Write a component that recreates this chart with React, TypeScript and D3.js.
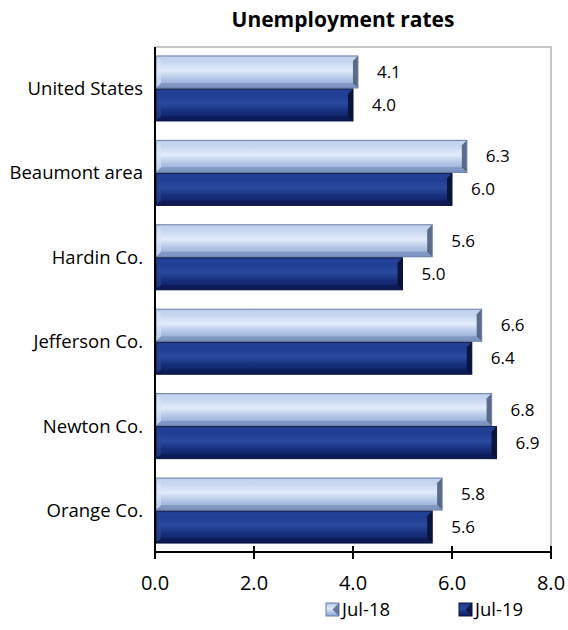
import React from "react";
import * as d3 from "d3";

const categories = ["United States", "Beaumont area", "Hardin Co.", "Jefferson Co.", "Newton Co.", "Orange Co."];
const seriesNames = ["Jul-18", "Jul-19"];
const jul18 = [4.1, 6.3, 5.6, 6.6, 6.8, 5.8];
const jul19 = [4.0, 6.0, 5.0, 6.4, 6.9, 5.6];
const xTicks = [0, 2, 4, 6, 8];

const W = 568;
const H = 630;
const M = { left: 155, right: 551, top: 47, bottom: 552 };
const FONT = "'Open Sans', sans-serif";

const seriesStyles = [
  { grad: "g18", bevelR: "#4f5f7c", bevelL: "#dbe6f6", bevelT: "#cddcf2", bevelB: "#7189b7", stroke: "#6a7fa6" },
  { grad: "g19", bevelR: "#071133", bevelL: "#2a4599", bevelT: "#26449a", bevelB: "#0a1750", stroke: "#0a143f" },
];

export default function App() {
  const x = d3.scaleLinear().domain([0, 8]).range([M.left, M.right]);
  const y = d3.scaleBand<string>().domain(categories).range([M.top, M.bottom]).paddingInner(0.218).paddingOuter(0.1);
  const inner = d3.scaleBand<string>().domain(seriesNames).range([0, y.bandwidth()]).padding(0);
  const series = [jul18, jul19];
  const bv = 5;

  const bar = (v: number, cat: string, si: number) => {
    const x0 = x(0) + 1;
    const x1 = x(v);
    const y0 = (y(cat) as number) + (inner(seriesNames[si]) as number) + 0.5;
    const h = inner.bandwidth() - 1;
    const y1 = y0 + h;
    const s = seriesStyles[si];
    return (
      <g key={cat + si}>
        <rect x={x0} y={y0} width={x1 - x0} height={h} fill={`url(#${s.grad})`} />
        <polygon points={`${x0},${y0} ${x1},${y0} ${x1 - bv},${y0 + bv} ${x0 + bv},${y0 + bv}`} fill={s.bevelT} opacity={0.55} />
        <polygon points={`${x0},${y1} ${x1},${y1} ${x1 - bv},${y1 - bv} ${x0 + bv},${y1 - bv}`} fill={s.bevelB} opacity={0.6} />
        <polygon points={`${x0},${y0} ${x0 + bv},${y0 + bv} ${x0 + bv},${y1 - bv} ${x0},${y1}`} fill={s.bevelL} opacity={0.6} />
        <polygon points={`${x1},${y0} ${x1 - bv},${y0 + bv} ${x1 - bv},${y1 - bv} ${x1},${y1}`} fill={s.bevelR} opacity={0.9} />
        <rect x={x0} y={y0} width={x1 - x0} height={h} fill="none" stroke={s.stroke} strokeWidth={1} />
        <text x={x1 + 19} y={y0 + h / 2} dy="0.35em" fontSize={17} fontFamily={FONT} fill="#000">
          {v.toFixed(1)}
        </text>
      </g>
    );
  };

  const legendItems = [
    { name: seriesNames[0], sx: 326 },
    { name: seriesNames[1], sx: 459 },
  ];

  return (
    <svg width={W} height={H} style={{ position: "absolute", left: 0, top: 0, background: "#fff" }}>
      <defs>
        <linearGradient id="g18" x1="0" y1="0" x2="0" y2="1">
          <stop offset="0" stopColor="#a7bde3" />
          <stop offset="0.2" stopColor="#c8d8f1" />
          <stop offset="0.45" stopColor="#e2ebf9" />
          <stop offset="0.7" stopColor="#b3c7e7" />
          <stop offset="1" stopColor="#8ba3cf" />
        </linearGradient>
        <linearGradient id="g19" x1="0" y1="0" x2="0" y2="1">
          <stop offset="0" stopColor="#1c3a8e" />
          <stop offset="0.25" stopColor="#213f95" />
          <stop offset="0.45" stopColor="#2a4aa0" />
          <stop offset="0.7" stopColor="#172f7c" />
          <stop offset="1" stopColor="#0e1d5c" />
        </linearGradient>
      </defs>
      <text x={343} y={27} textAnchor="middle" fontSize={21} fontWeight="bold" fontFamily={FONT} fill="#000">
        Unemployment rates
      </text>
      <path d={`M${M.left},${M.top} H${M.right} V${M.bottom}`} fill="none" stroke="#c8c8c8" strokeWidth={2} />
      {categories.map((c, i) => series.map((sv, si) => bar(sv[i], c, si)))}
      {categories.map((c) => (
        <text key={c} x={M.left - 12} y={(y(c) as number) + y.bandwidth() / 2} dy="0.35em" textAnchor="end" fontSize={18.5} fontFamily={FONT} fill="#000">
          {c}
        </text>
      ))}
      <line x1={M.left} x2={M.left} y1={M.top} y2={M.bottom} stroke="#000" strokeWidth={2} />
      <line x1={M.left} x2={M.right} y1={M.bottom} y2={M.bottom} stroke="#000" strokeWidth={2} />
      {xTicks.map((t) => (
        <g key={t}>
          <line x1={x(t)} x2={x(t)} y1={M.bottom - 6} y2={M.bottom + 7} stroke="#000" strokeWidth={2} />
          <text x={x(t)} y={M.bottom + 31} dy="0.35em" textAnchor="middle" fontSize={20} fontFamily={FONT} fill="#000">
            {t.toFixed(1)}
          </text>
        </g>
      ))}
      {legendItems.map((l, i) => {
        const s = seriesStyles[i];
        const sy = 603;
        const sz = 13;
        return (
          <g key={l.name}>
            <rect x={l.sx} y={sy} width={sz} height={sz} fill={`url(#${s.grad})`} stroke={s.stroke} />
            <polygon points={`${l.sx + sz},${sy} ${l.sx + sz},${sy + sz} ${l.sx + sz / 2},${sy + sz / 2}`} fill={s.bevelR} opacity={0.8} />
            <text x={l.sx + sz + 3} y={sy + sz / 2} dy="0.35em" fontSize={18.5} fontFamily={FONT} fill="#000">
              {l.name}
            </text>
          </g>
        );
      })}
    </svg>
  );
}
